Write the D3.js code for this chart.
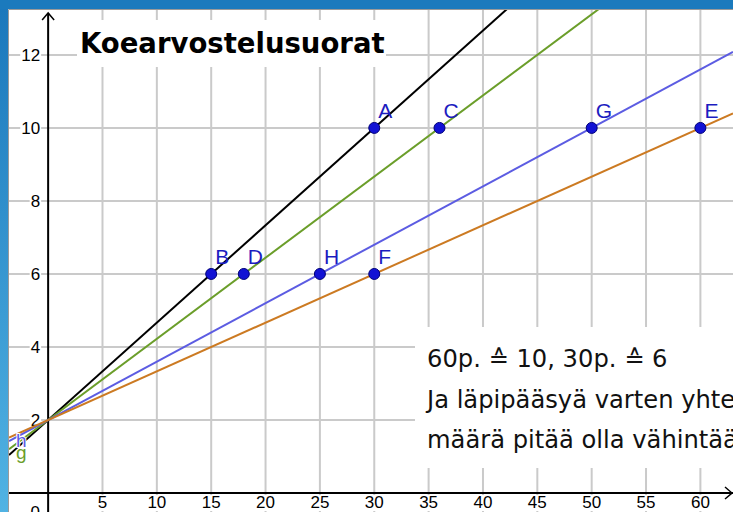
<!DOCTYPE html>
<html>
<head>
<meta charset="utf-8">
<script src="https://cdn.jsdelivr.net/npm/d3@7"></script>
<style>
  body { margin: 0; background: #fff; }
  svg { display: block; }
  .pt-label { font-family: "Liberation Sans", Arial, sans-serif; font-size: 21px; fill: #1c1cc0; }
  .note { font-family: "DejaVu Sans", Verdana, sans-serif; font-size: 24.2px; fill: #111; }
</style>
</head>
<body>
<svg width="733" height="512"></svg>
<script>
// points
var pointNames = ["A", "B", "C", "D", "G", "H", "E", "F"];
var pointX = [30, 15, 36, 18, 50, 25, 60, 30];
var pointY = [10, 6, 10, 6, 10, 6, 10, 6];

// each line goes through two of the points
var lineNames = ["f", "g", "h", "i"];
var linePoints = [["A", "B"], ["C", "D"], ["G", "H"], ["E", "F"]];
var lineColors = ["#000000", "#6b9e2a", "#5c5ce2", "#cc7a22"];

var xTicks = [5, 10, 15, 20, 25, 30, 35, 40, 45, 50, 55, 60];
var yTicks = [2, 4, 6, 8, 10, 12];

var title = "Koearvostelusuorat";
var noteLines = ["60p. \u2259 10, 30p. \u2259 6",
                 "Ja läpipääsyä varten yhteispisteiden",
                 "määrä pitää olla vähintään 30p."];

var svg = d3.select("svg"),
    width = +svg.attr("width"),
    height = +svg.attr("height"),
    padL = 9, padT = 10;

var x = d3.scaleLinear().domain([-3.6, 63.0]).range([padL, width]),
    y = d3.scaleLinear().domain([-0.52, 13.23]).range([height, padT]);

var defs = svg.append("defs");
var grad = defs.append("linearGradient").attr("id", "side").attr("x1", 0).attr("y1", 0).attr("x2", 0).attr("y2", 1);
grad.append("stop").attr("offset", "0%").attr("stop-color", "#1b78bc");
grad.append("stop").attr("offset", "100%").attr("stop-color", "#52b4e4");
defs.append("clipPath").attr("id", "plot")
  .append("rect").attr("x", padL).attr("y", padT).attr("width", width - padL).attr("height", height - padT);

// window frame
svg.append("rect").attr("width", width).attr("height", height).attr("fill", "#fff");
svg.append("rect").attr("width", width).attr("height", padT - 1).attr("fill", "#1b7abd");
svg.append("rect").attr("y", padT - 1).attr("width", padL - 1).attr("height", height).attr("fill", "url(#side)");
svg.append("path").attr("d", "M" + (padL - 0.5) + "," + height + "V" + (padT - 0.5) + "H" + width)
  .attr("fill", "none").attr("stroke", "#9a9a9a");

var g = svg.append("g").attr("clip-path", "url(#plot)");

// grid
g.selectAll(".vgrid").data(xTicks).enter().append("line")
  .attr("x1", function(d) { return x(d); }).attr("x2", function(d) { return x(d); })
  .attr("y1", padT).attr("y2", height)
  .attr("stroke", "#cacaca").attr("stroke-width", 2);
g.selectAll(".hgrid").data(yTicks).enter().append("line")
  .attr("y1", function(d) { return y(d); }).attr("y2", function(d) { return y(d); })
  .attr("x1", padL).attr("x2", width)
  .attr("stroke", "#cacaca").attr("stroke-width", 2);

// white boxes behind title and note
g.append("rect").attr("x", 77).attr("y", 20).attr("width", 309).attr("height", 47).attr("fill", "#fff");
g.append("rect").attr("x", 415).attr("y", 327).attr("width", width - 415).attr("height", 141).attr("fill", "#fff");

// axes
g.append("line").attr("x1", x(0)).attr("x2", x(0)).attr("y1", padT + 3).attr("y2", height)
  .attr("stroke", "#000").attr("stroke-width", 2);
g.append("line").attr("x1", padL).attr("x2", width).attr("y1", y(0)).attr("y2", y(0))
  .attr("stroke", "#000").attr("stroke-width", 2);
g.append("path").attr("d", "M" + (x(0) - 6) + "," + (padT + 10) + "L" + x(0) + "," + (padT + 3) + "L" + (x(0) + 6) + "," + (padT + 10))
  .attr("fill", "none").attr("stroke", "#000").attr("stroke-width", 1.5);
g.append("path").attr("d", "M" + (width - 8) + "," + (y(0) - 6) + "L" + (width - 1) + "," + y(0) + "L" + (width - 8) + "," + (y(0) + 6))
  .attr("fill", "none").attr("stroke", "#000").attr("stroke-width", 1.5);

// tick labels with white backing
function tickStyle(sel) {
  sel.style("font-family", "Liberation Sans, Arial, sans-serif")
    .style("font-size", "17px")
    .attr("fill", "#000");
}
function backed(sel) {
  sel.each(function() {
    var node = this, b = node.getBBox();
    d3.select(node.parentNode).insert("rect", function() { return node; })
      .attr("x", b.x - 1).attr("y", b.y + 2).attr("width", b.width + 2).attr("height", b.height - 3)
      .attr("fill", "#fff");
  });
}
var yl = g.selectAll(".ylab").data(yTicks).enter().append("text")
  .call(tickStyle)
  .attr("x", x(0) - 8).attr("y", function(d) { return y(d) + 6; })
  .attr("text-anchor", "end")
  .text(function(d) { return d; });
backed(yl);
var xl = g.selectAll(".xlab").data(xTicks).enter().append("text")
  .call(tickStyle)
  .attr("x", function(d) { return x(d); }).attr("y", y(0) + 15)
  .attr("text-anchor", "middle")
  .text(function(d) { return d; });
backed(xl);
g.append("text").call(tickStyle).attr("x", x(0) - 13).attr("y", y(0) + 25)
  .attr("text-anchor", "middle").text("0");

// lines through point pairs, stretched across the view
var lookup = {};
pointNames.forEach(function(n, i) { lookup[n] = [pointX[i], pointY[i]]; });
var xd = x.domain();
g.selectAll(".fline").data(linePoints).enter().append("line")
  .each(function(d) {
    var p = lookup[d[0]], q = lookup[d[1]], k = (p[1] - q[1]) / (p[0] - q[0]);
    d3.select(this)
      .attr("x1", x(xd[0])).attr("y1", y(p[1] + k * (xd[0] - p[0])))
      .attr("x2", x(xd[1])).attr("y2", y(p[1] + k * (xd[1] - p[0])));
  })
  .attr("stroke", function(d, i) { return lineColors[i]; })
  .attr("stroke-width", 2);

// function names at the left edge
var fnLab = [["h", 447], ["g", 459]];
g.selectAll(".fname").data(fnLab).enter().append("text")
  .attr("x", 16).attr("y", function(d) { return d[1]; })
  .style("font-family", "Liberation Sans, Arial, sans-serif").style("font-size", "19px")
  .attr("fill", function(d) { return lineColors[lineNames.indexOf(d[0])]; })
  .attr("stroke", "#fff").attr("stroke-width", 2).attr("paint-order", "stroke")
  .text(function(d) { return d[0]; });

// points
g.selectAll(".pt").data(pointNames).enter().append("circle")
  .attr("cx", function(d, i) { return x(pointX[i]); })
  .attr("cy", function(d, i) { return y(pointY[i]); })
  .attr("r", 5.5)
  .attr("fill", "#1212d4").attr("stroke", "#00007a").attr("stroke-width", 1);
g.selectAll(".ptl").data(pointNames).enter().append("text")
  .attr("class", "pt-label")
  .attr("x", function(d, i) { return x(pointX[i]) + 4; })
  .attr("y", function(d, i) { return y(pointY[i]) - 10; })
  .text(function(d) { return d; });

// title
g.append("text").attr("x", 80).attr("y", 53)
  .style("font-family", "DejaVu Sans, Verdana, sans-serif").style("font-size", "27.5px").style("font-weight", "bold")
  .attr("fill", "#000").text(title);

// note
g.selectAll(".note").data(noteLines).enter().append("text")
  .attr("class", "note")
  .attr("x", 427).attr("y", function(d, i) { return 367 + i * 40.5; })
  .text(function(d) { return d; });
</script>
</body>
</html>
